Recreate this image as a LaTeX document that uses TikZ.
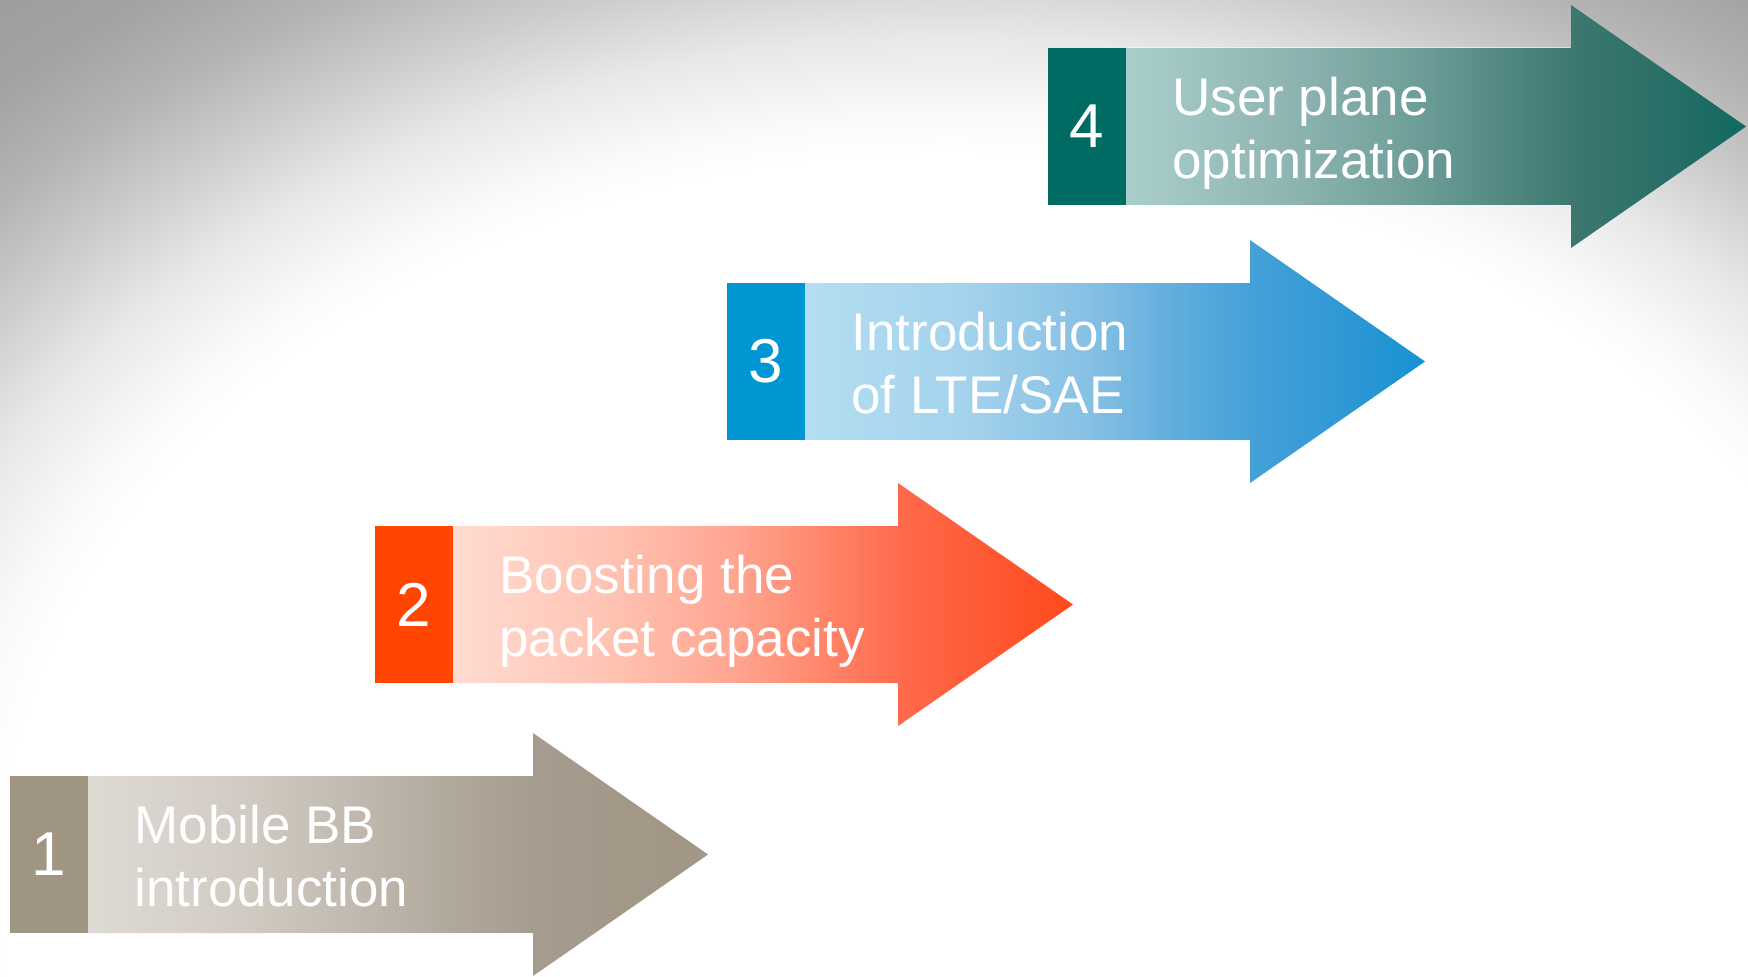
\documentclass[tikz,border=0pt]{standalone}
\usepackage{fontspec}
\setmainfont{Liberation Sans}

% background vignette: grey in the upper corners, white towards the lower middle
\definecolor{bgA}{HTML}{FAFAFA}
\definecolor{bgB}{HTML}{E8E8E8}
\definecolor{bgC}{HTML}{CDCDCD}
\definecolor{bgD}{HTML}{B4B4B4}
\definecolor{bgE}{HTML}{A3A3A3}
\definecolor{bgF}{HTML}{9A9A9A}
\pgfdeclareradialshading{vignette}{\pgfpoint{0bp}{0bp}}{%
  color(0bp)=(white); color(14.8bp)=(white); color(15.6bp)=(bgA);
  color(17.2bp)=(bgB); color(18.75bp)=(bgC); color(20.3bp)=(bgD);
  color(21.9bp)=(bgE); color(24.2bp)=(bgF); color(50bp)=(bgF)}

% body shading stops (fraction f of the body+head length -> 25bp+50f)
\newcommand\bodyshading[8]{%
  \definecolor{#1a}{HTML}{#2}\definecolor{#1b}{HTML}{#3}%
  \definecolor{#1c}{HTML}{#4}\definecolor{#1d}{HTML}{#5}%
  \definecolor{#1e}{HTML}{#6}\definecolor{#1f}{HTML}{#7}%
  \definecolor{#1g}{HTML}{#8}%
  \pgfdeclarehorizontalshading{#1}{100bp}{%
    color(0bp)=(#1a); color(25bp)=(#1a); color(37.5bp)=(#1b);
    color(47.5bp)=(#1c); color(55bp)=(#1d); color(61bp)=(#1e);
    color(67.5bp)=(#1f); color(75bp)=(#1g); color(100bp)=(#1g)}}

\bodyshading{shadeone}{DEDAD4}{D1CBC3}{BFB7AD}{B0A79B}{A69C8F}{A39888}{A29786}
\bodyshading{shadetwo}{FFDCD2}{FFC3B3}{FFA691}{FF8469}{FF6A4C}{FF5A36}{FF4A1C}
\bodyshading{shadethree}{B3DEF2}{A5D3ED}{88C1E4}{5FADDD}{45A1D8}{3299D5}{1692D2}
\bodyshading{shadefour}{A9CECC}{90B6B4}{71A09B}{548A84}{3C7770}{2C7068}{10695F}

\definecolor{boxone}{HTML}{A09483}
\definecolor{boxtwo}{HTML}{FF4500}
\definecolor{boxthree}{HTML}{0096D4}
\definecolor{boxfour}{HTML}{006B62}

\tikzset{
  numtext/.style={text=white, inner sep=0pt, anchor=center,
    font=\fontsize{31}{31}\selectfont},
  stagetext/.style={text=white, inner sep=0pt, anchor=base west,
    font=\fontsize{26.5}{31.5}\selectfont},
  bodyedge/.style={draw=white, draw opacity=0.55, line width=0.6pt},
}

% one stage: #1,#2 top-left corner of the number box, #3 box colour,
% #4 body shading, #5 number, #6/#7 the two text lines
\newcommand\stagearrow[7]{%
  \begin{scope}[shift={(#1,#2)}]
    \shade[shading=#4] (78,0) -- (523,0) -- (523,-43) -- (698,78.5)
      -- (523,200) -- (523,157) -- (78,157) -- cycle;
    \path[bodyedge] (78,-0.6) -- (522,-0.6) (78,157.6) -- (522,157.6);
    \fill[#3] (0,0) rectangle (78,157);
    \node[numtext] (num#5) at (39,78.5) {#5};
    \node[stagetext] (label#5) at (124,67)
      {\begin{tabular}[t]{@{}l@{}}#6\\#7\end{tabular}};
  \end{scope}}

\begin{document}
\begin{tikzpicture}[x=0.5pt, y=-0.5pt]
  \useasboundingbox (0,0) rectangle (1748,976);
  \fill[white] (0,0) rectangle (1748,976);
  \begin{scope}
    \clip (0,0) rectangle (1748,976);
    \shade[shading=vignette] (950,885) ellipse [x radius=1600, y radius=1232];
  \end{scope}

  \stagearrow{10}{776}{boxone}{shadeone}{1}{Mobile BB}{introduction}
  \stagearrow{375}{526}{boxtwo}{shadetwo}{2}{Boosting the}{packet capacity}
  \stagearrow{727}{283}{boxthree}{shadethree}{3}{Introduction}{of LTE/SAE}
  \stagearrow{1048}{48}{boxfour}{shadefour}{4}{User plane}{optimization}
\end{tikzpicture}
\end{document}
